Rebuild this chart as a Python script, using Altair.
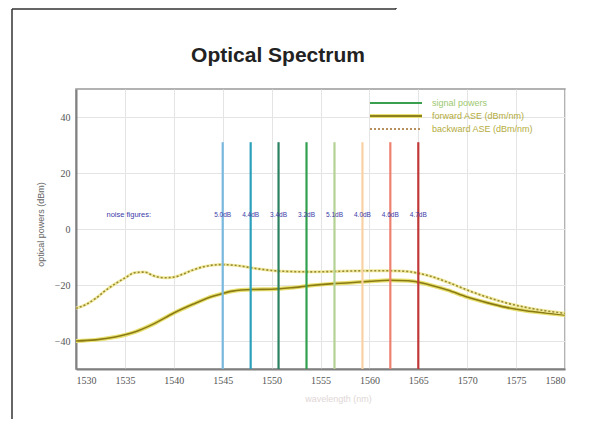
import altair as alt
import pandas as pd

# ---------------- data ----------------
fwd_wl = [1530, 1532, 1534, 1536, 1538, 1540, 1542, 1544, 1545, 1546, 1548, 1550, 1552, 1554,
          1556, 1558, 1560, 1562, 1564, 1565, 1566, 1568, 1570, 1572, 1574, 1576, 1578, 1580]
fwd_ase = [-40.0, -39.6, -38.6, -36.8, -33.8, -30.0, -26.8, -24.0, -23.0, -22.2, -21.6, -21.5, -21.0, -20.2,
           -19.6, -19.2, -18.7, -18.3, -18.5, -19.0, -19.8, -21.8, -24.3, -26.3, -28.0, -29.2, -30.0, -30.7]

bwd_wl = [1530, 1531, 1532, 1533, 1534, 1535, 1536, 1537, 1538, 1539, 1540, 1541, 1542, 1543, 1544,
          1545, 1546, 1547, 1548, 1550, 1552, 1554, 1556, 1558, 1560, 1562, 1564, 1565, 1566, 1568,
          1570, 1572, 1574, 1576, 1578, 1580]
bwd_ase = [-28.3, -27.0, -24.8, -22.0, -19.6, -17.5, -15.6, -15.4, -16.8, -17.4, -17.2, -16.0, -14.6, -13.5, -12.9,
           -12.7, -12.9, -13.3, -13.9, -14.8, -15.2, -15.3, -15.2, -15.0, -14.9, -14.9, -15.2, -15.8, -16.6, -19.0,
           -21.8, -24.3, -26.4, -28.0, -29.2, -30.1]

sig_wl = [1545.0, 1547.86, 1550.71, 1553.57, 1556.43, 1559.29, 1562.14, 1565.0]
sig_power = [31, 31, 31, 31, 31, 31, 31, 31]
sig_colors = ["#7ab8e0", "#2aa0bc", "#2a8060", "#30a050", "#b4d294", "#f8d2a4", "#ee8070", "#c03838"]
noise_figs = ["5.0dB", "4.4dB", "3.4dB", "3.2dB", "5.1dB", "4.0dB", "4.6dB", "4.7dB"]

legend_labels = ["signal powers", "forward ASE (dBm/nm)", "backward ASE (dBm/nm)"]
legend_line_colors = ["#3aa050", "#8c8020", "#b89060"]
legend_text_colors = ["#9cc870", "#b4ac3c", "#b4ac3c"]
legend_dashes = [[1, 0], [1, 0], [2, 2]]

x_ticks = [1530, 1535, 1540, 1545, 1550, 1555, 1560, 1565, 1570, 1575, 1580]
y_ticks = [-40, -20, 0, 20, 40]

fwd = pd.DataFrame({"wl": fwd_wl, "p": fwd_ase})
bwd = pd.DataFrame({"wl": bwd_wl, "p": bwd_ase})
sig = pd.DataFrame({"wl": sig_wl, "p": sig_power, "c": sig_colors, "nf": noise_figs})
one = pd.DataFrame({"k": [0]})

X = alt.X("wl:Q", scale=alt.Scale(domain=[1530, 1580], nice=False, zero=False),
          axis=alt.Axis(values=x_ticks, format="d", title="wavelength (nm)",
                        titleColor="#e0d6d6", titleFontSize=9, titleFontWeight="normal",
                        titleX=262, titleY=25, labelPadding=6))
Y = alt.Y("p:Q", scale=alt.Scale(domain=[-50, 50], nice=False, zero=False),
          axis=alt.Axis(values=y_ticks, title="optical powers (dBm)", titleFontSize=9,
                        titleFontWeight="normal", titleColor="#666", titleX=-36, titleY=135,
                        titleBaseline="middle", labelPadding=6))

base_axes = alt.Chart(fwd).mark_line(opacity=0).encode(x=X, y=Y)

fwd_glow = alt.Chart(fwd).mark_line(color="#e8e070", strokeWidth=4, interpolate="monotone").encode(x="wl:Q", y="p:Q")
fwd_line = alt.Chart(fwd).mark_line(color="#8a7a14", strokeWidth=1.6, interpolate="monotone").encode(x="wl:Q", y="p:Q")
bwd_glow = alt.Chart(bwd).mark_line(color="#f0eaa0", strokeWidth=3, interpolate="monotone").encode(x="wl:Q", y="p:Q")
bwd_line = alt.Chart(bwd).mark_line(color="#9a8a30", strokeWidth=1.6, strokeDash=[2, 2],
                                    interpolate="monotone").encode(x="wl:Q", y="p:Q")

sig_rules = alt.Chart(sig).mark_rule(strokeWidth=2.2).encode(
    x="wl:Q", y="p:Q", y2=alt.datum(-50), stroke=alt.Stroke("c:N", scale=None))

nf_text = alt.Chart(sig).mark_text(fontSize=6.5, color="#3a3aa8", font="Liberation Sans").encode(
    x="wl:Q", y=alt.datum(5), text="nf:N")

nf_title = alt.Chart(one).mark_text(fontSize=7.5, color="#3a3aa8", font="Liberation Sans").encode(
    x=alt.datum(1535.4), y=alt.datum(5), text=alt.value("noise figures:"))

title = alt.Chart(one).mark_text(fontSize=21, fontWeight="bold", color="#222", font="Liberation Sans",
                                 baseline="middle").encode(
    x=alt.value(202), y=alt.value(-33), text=alt.value("Optical Spectrum"))

layers = [base_axes, fwd_glow, fwd_line, bwd_glow, bwd_line, sig_rules, nf_text, nf_title, title]

# manual legend (top right inside plot)
for i, (lab, lc, tc, dash) in enumerate(zip(legend_labels, legend_line_colors, legend_text_colors, legend_dashes)):
    yy = 14 + 13 * i
    if i == 1:
        layers.append(alt.Chart(one).mark_rule(color="#e8e070", strokeWidth=4).encode(
            x=alt.value(294), x2=alt.value(346), y=alt.value(yy)))
    layers.append(alt.Chart(one).mark_rule(color=lc, strokeWidth=1.8, strokeDash=dash).encode(
        x=alt.value(294), x2=alt.value(346), y=alt.value(yy)))
    layers.append(alt.Chart(one).mark_text(align="left", baseline="middle", fontSize=9, color=tc,
                                           font="Liberation Sans").encode(
        x=alt.value(356), y=alt.value(yy), text=alt.value(lab)))

# page frame lines (scanned page border)
frame_col = "#333333"
layers.append(alt.Chart(one).mark_rule(color=frame_col, strokeWidth=1.5).encode(
    x=alt.value(-64), y=alt.value(-80), y2=alt.value(345)))
layers.append(alt.Chart(one).mark_rule(color=frame_col, strokeWidth=1.5).encode(
    x=alt.value(-64), x2=alt.value(320), y=alt.value(-80)))
layers.append(alt.Chart(one).mark_rule(color=frame_col, strokeWidth=1.5).encode(
    x=alt.value(320), y=alt.value(-89), y2=alt.value(-80)))

chart = alt.layer(*layers).properties(
    width=489, height=280,
    autosize=alt.AutoSizeParams(type="none"),
    padding={"left": 68, "top": 81, "right": 21, "bottom": 50},
    background="white",
).configure_view(stroke="#999", strokeWidth=1.5, fill="white").configure_axis(
    grid=True, gridColor="#e4e4e4", gridWidth=1, domainColor="#808080", domainWidth=2,
    ticks=False, labelColor="#555", labelFontSize=10, labelFont="Liberation Sans Narrow",
    titleFont="Liberation Sans")

chart.save("out.html", embed_options={"renderer": "svg", "actions": False})
